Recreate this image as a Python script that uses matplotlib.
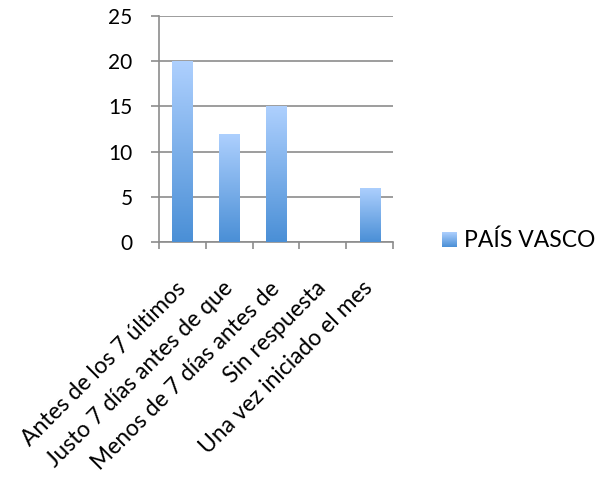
import numpy as np
import matplotlib
matplotlib.use("Agg")
import matplotlib.pyplot as plt
from matplotlib.colors import LinearSegmentedColormap

plt.rcParams['font.family'] = ['Lato', 'DejaVu Sans']

categories = [
    "Antes de los 7 últimos",
    "Justo 7 días antes de que",
    "Menos de 7 días antes de",
    "Sin respuesta",
    "Una vez iniciado el mes",
]
values = [20, 12, 15, 0, 6]
series_name = "PAÍS VASCO"
y_ticks = [0, 5, 10, 15, 20, 25]

grad = LinearSegmentedColormap.from_list("bar", ["#4a8fd6", "#aed0fe"])
grid_color = "#8c8c8c"

fig = plt.figure(figsize=(6.03, 4.79), dpi=100)
ax = fig.add_axes([159 / 603, 1 - 242 / 479, 234 / 603, 226 / 479])

x = np.arange(len(categories))
bars = ax.bar(x, values, width=0.43, color="none", edgecolor="none", zorder=3)
gimg = np.linspace(0, 1, 256).reshape(-1, 1)
for b in bars:
    h = b.get_height()
    if h <= 0:
        continue
    x0 = b.get_x()
    im = ax.imshow(gimg, cmap=grad, origin="lower", aspect="auto",
                   extent=[x0, x0 + b.get_width(), 0, h], zorder=3)
    im.set_clip_path(b)

ax.set_xlim(-0.5, len(categories) - 0.5)
ax.set_ylim(0, 25)
ax.set_yticks(y_ticks)
ax.set_yticklabels([str(t) for t in y_ticks], fontsize=15)
ax.yaxis.grid(True, color=grid_color, linewidth=1.2, zorder=0)
ax.set_axisbelow(True)

ax.set_xticks(np.arange(len(categories) + 1) - 0.5)
ax.set_xticklabels([])
ax.tick_params(axis="x", length=5, color=grid_color, width=1.2)
ax.tick_params(axis="y", length=6, color=grid_color, width=1.2, pad=13)
for s in ["top", "right"]:
    ax.spines[s].set_visible(False)
for s in ["left", "bottom"]:
    ax.spines[s].set_color(grid_color)
    ax.spines[s].set_linewidth(1.2)

for xi, lab in zip(x, categories):
    ax.annotate(lab, xy=(xi, 0), xycoords=("data", "axes fraction"),
                xytext=(0, -31), textcoords="offset points",
                rotation=45, rotation_mode="anchor",
                ha="right", va="center", fontsize=16.5)

# legend swatch and label
sw = fig.add_axes([442 / 603, 1 - 247 / 479, 15 / 603, 15 / 479])
sw.imshow(gimg, cmap=grad, origin="lower", aspect="auto")
sw.set_axis_off()
fig.text(464 / 603, 1 - 240 / 479, series_name, fontsize=16.5, va="center", ha="left")

fig.savefig("out.png", dpi=100)
